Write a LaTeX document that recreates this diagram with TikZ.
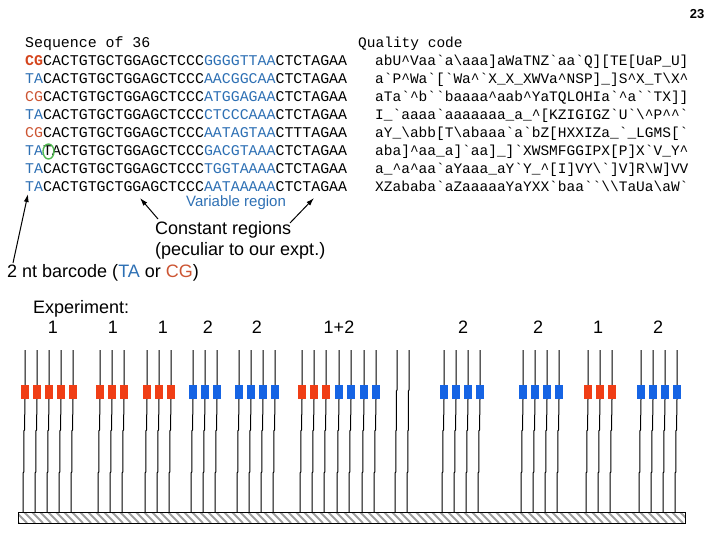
\documentclass[tikz,border=0pt]{standalone}
\usepackage{fontspec}
\setmainfont{Liberation Sans}
\setmonofont{Liberation Mono}
\usetikzlibrary{arrows.meta,shapes.geometric}
\definecolor{seqblue}{RGB}{46,112,180}
\definecolor{seqred}{RGB}{204,85,51}
\definecolor{cgbold}{RGB}{212,68,28}
\definecolor{boxred}{RGB}{240,62,22}
\definecolor{boxblue}{RGB}{22,100,228}
\definecolor{circgreen}{RGB}{80,185,80}
\newcommand\qxc{\textasciicircum}
\newcommand\qxu{\_}
\newcommand\qxb{\textbackslash}
\newcommand\seqB[1]{\textcolor{seqblue}{#1}}
\newcommand\seqR[1]{\textcolor{seqred}{#1}}
\begin{document}
\begin{tikzpicture}[x=1pt,y=-1pt,
  seq/.style={anchor=base west, inner sep=0pt, font=\fontsize{14.9}{18}\selectfont\ttfamily},
  qual/.style={anchor=base west, inner sep=0pt, font=\fontsize{14.5}{18}\selectfont\ttfamily},
  lbl/.style={anchor=base west, inner sep=0pt, font=\fontsize{18}{21}\selectfont},
  num/.style={anchor=base, inner sep=0pt, font=\fontsize{18}{21}\selectfont},
  arr/.style={-{Latex[length=8pt,width=5pt]}, line width=1pt},
  strand/.style={line width=1pt},
  hatch/.style={line width=2pt, gray!75}]
\useasboundingbox (0,0) rectangle (720,540);

% slide number
\node[anchor=center, inner sep=0pt, font=\fontsize{13}{14}\selectfont\bfseries] (slide) at (697,14) {23};

% sequences
\node[seq] (head) at (25,48) {Sequence of 36};
\node[seq] (s1) at (25,66) {\textcolor{cgbold}{\textbf{CG}}CACTGTGCTGGAGCTCCC\seqB{GGGGTTAA}CTCTAGAA};
\node[seq] (s2) at (25,84) {\seqB{TA}CACTGTGCTGGAGCTCCC\seqB{AACGGCAA}CTCTAGAA};
\node[seq] (s3) at (25,102) {\seqR{CG}CACTGTGCTGGAGCTCCC\seqB{ATGGAGAA}CTCTAGAA};
\node[seq] (s4) at (25,120) {\seqB{TA}CACTGTGCTGGAGCTCCC\seqB{CTCCCAAA}CTCTAGAA};
\node[seq] (s5) at (25,138) {\seqR{CG}CACTGTGCTGGAGCTCCC\seqB{AATAGTAA}CTTTAGAA};
\node[seq] (s6) at (25,156) {\seqB{TA}TACTGTGCTGGAGCTCCC\seqB{GACGTAAA}CTCTAGAA};
\node[seq] (s7) at (25,174) {\seqB{TA}CACTGTGCTGGAGCTCCC\seqB{TGGTAAAA}CTCTAGAA};
\node[seq] (s8) at (25,192) {\seqB{TA}CACTGTGCTGGAGCTCCC\seqB{AATAAAAA}CTCTAGAA};
\node[draw=circgreen, line width=1.4pt, ellipse, inner sep=0pt, minimum width=11pt, minimum height=15pt] (circ) at (48.5,151.5) {};

% quality codes
\node[qual] (qhead) at (358,48) {Quality code};
\node[qual] (q1) at (375,66) {abU\qxc{}Vaa`a\qxb{}aaa]aWaTNZ`aa`Q][TE[UaP\qxu{}U]};
\node[qual] (q2) at (375,84) {a`P\qxc{}Wa`[`Wa\qxc{}`X\qxu{}X\qxu{}XWVa\qxc{}NSP]\qxu{}]S\qxc{}X\qxu{}T\qxb{}X\qxc{}};
\node[qual] (q3) at (375,102) {aTa`\qxc{}b``baaaa\qxc{}aab\qxc{}YaTQLOHIa`\qxc{}a``TX]]};
\node[qual] (q4) at (375,120) {I\qxu{}`aaaa`aaaaaaa\qxu{}a\qxu{}\qxc{}[KZIGIGZ`U`\qxb{}\qxc{}P\qxc{}\qxc{}`};
\node[qual] (q5) at (375,138) {aY\qxu{}\qxb{}abb[T\qxb{}abaaa`a`bZ[HXXIZa\qxu{}`\qxu{}LGMS[`};
\node[qual] (q6) at (375,156) {aba]\qxc{}aa\qxu{}a]`aa]\qxu{}]`XWSMFGGIPX[P]X`V\qxu{}Y\qxc{}};
\node[qual] (q7) at (375,174) {a\qxu{}\qxc{}a\qxc{}aa`aYaaa\qxu{}aY`Y\qxu{}\qxc{}[I]VY\qxb{}`]V]R\qxb{}W]VV};
\node[qual] (q8) at (375,192) {XZababa`aZaaaaaYaYXX`baa``\qxb{}\qxb{}TaUa\qxb{}aW`};

% labels
\node[anchor=base, inner sep=0pt, font=\fontsize{15}{18}\selectfont, text=seqblue] (var) at (236,207) {Variable region};
\node[lbl] (cr1) at (155,234) {Constant regions};
\node[lbl] (cr2) at (155,255) {(peculiar to our expt.)};
\node[lbl] (bc) at (7,277) {2 nt barcode (\textcolor{seqblue}{TA} or \textcolor{seqred}{CG})};
\node[lbl] (exp) at (33,313) {Experiment:};

% arrows
\coordinate (bcTail) at (13,263);
\coordinate (bcTip) at (28,194);
\coordinate (c1Tail) at (158,219);
\coordinate (c1Tip) at (140,198);
\coordinate (c2Tail) at (290,223);
\coordinate (c2Tip) at (314,198);
\draw[arr] (bcTail) -- (bcTip);
\draw[arr] (c1Tail) -- (c1Tip);
\draw[arr] (c2Tail) -- (c2Tip);

% experiment numbers
\node[num] (e1) at (53,333) {1};
\node[num] (e2) at (113,333) {1};
\node[num] (e3) at (163,333) {1};
\node[num] (e4) at (208,333) {2};
\node[num] (e5) at (257,333) {2};
\node[num] (e6) at (339,333) {1+2};
\node[num] (e7) at (463,333) {2};
\node[num] (e8) at (538,333) {2};
\node[num] (e9) at (598,333) {1};
\node[num] (e10) at (658,333) {2};

% strands
\foreach \x/\c in {25/boxred,37/boxred,49/boxred,61/boxred,73/boxred,
  100/boxred,112/boxred,124/boxred,147/boxred,159/boxred,171/boxred,
  193/boxblue,205/boxblue,217/boxblue,239/boxblue,251/boxblue,263/boxblue,275/boxblue,
  302/boxred,314/boxred,326/boxred,339/boxblue,351/boxblue,364/boxblue,376/boxblue,
  444/boxblue,456/boxblue,468/boxblue,480/boxblue,523/boxblue,535/boxblue,547/boxblue,559/boxblue,
  588/boxred,600/boxred,612/boxred,641/boxblue,653/boxblue,665/boxblue,677/boxblue}{
  \draw[strand] (\x,350) -- (\x,399) -- (\x-0.5,430) -- (\x-1.2,431) -- (\x-1.2,472) -- (\x-2,473) -- (\x-2,512);
  \fill[\c] (\x-4,385) rectangle (\x+4,399);
}
\foreach \x in {397,409}{
  \draw[strand] (\x,350) -- (\x,390) -- (\x-0.6,391) -- (\x-0.6,430) -- (\x-1.2,431) -- (\x-1.2,472) -- (\x-2,473) -- (\x-2,512);
}

% hatched bar
\begin{scope}
\clip (18,512) rectangle (685,523);
\foreach \h in {0,8,...,696}{\draw[hatch] (\h,512) -- (\h+11,523);}
\end{scope}
\draw[line width=1pt] (18,512) rectangle (685,523);
\end{tikzpicture}
\end{document}
